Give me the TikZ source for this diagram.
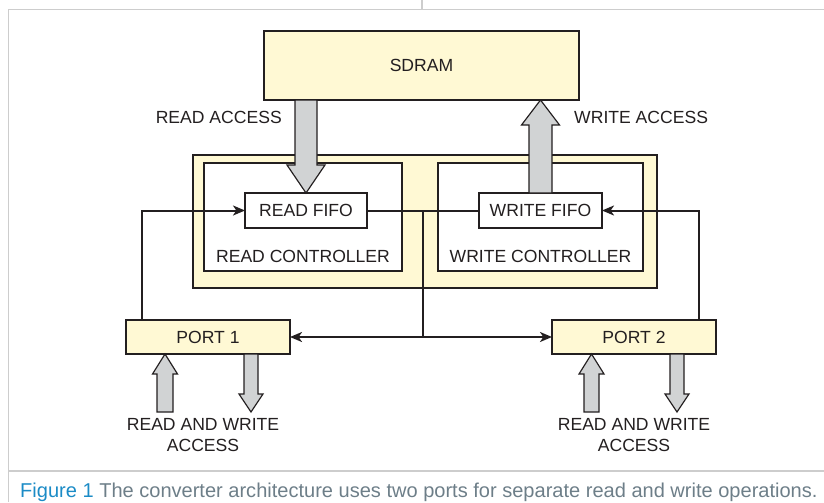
\documentclass[tikz,border=0pt]{standalone}
\usepackage{fontspec}
\setmainfont{Liberation Sans}
\usetikzlibrary{calc,arrows.meta}
\definecolor{boxfill}{HTML}{FFF9D4}
\definecolor{arrfill}{HTML}{D1D3D4}
\definecolor{ink}{HTML}{231F20}
\definecolor{rulegray}{HTML}{CDCDCD}
\definecolor{capblue}{HTML}{1B8BC6}
\definecolor{capgray}{HTML}{6D7E88}
\newcommand{\accessarrow}[5]{%
  \filldraw[fatarrow] ($(#1)+(-#3,0)$) -- ($(#2)+(-#3,#5)$) -- ($(#2)+(-#4,#5)$) -- (#2)
    -- ($(#2)+(#4,#5)$) -- ($(#2)+(#3,#5)$) -- ($(#1)+(#3,0)$) -- cycle;}
\begin{document}
\begin{tikzpicture}[x=0.03cm,y=-0.03cm,
    font=\fontsize{15}{17.5}\selectfont,
    box/.style={draw=ink,line width=1pt,fill=boxfill,inner sep=0pt,outer sep=0pt,text=ink},
    plain/.style={draw=ink,line width=1pt,fill=white,inner sep=0pt,outer sep=0pt,text=ink},
    lbl/.style={inner sep=0pt,text=ink},
    link/.style={draw=ink,line width=1.7pt},
    tip/.style={-{Stealth[length=3.6mm,width=3mm,inset=1mm]}},
    fatarrow/.style={draw=ink,line width=1pt,fill=arrfill,line join=miter}]
    \useasboundingbox (0,0) rectangle (824,502);
    \draw[rulegray,line width=1.2pt] (8.5,502) -- (8.5,9.5) -- (824,9.5);
    \draw[rulegray,line width=1.2pt] (422,0) -- (422,9.5);
    \draw[rulegray,line width=1.2pt] (8.5,471) -- (824,471);
    \node[box,minimum width=9.45cm,minimum height=2.07cm] (sdram) at (421.5,65.5) {SDRAM};
    \node[box,minimum width=13.92cm,minimum height=3.99cm] (ctrl) at (425,221.5) {};
    \node[plain,minimum width=5.94cm,minimum height=3.24cm] (rdctrl) at (303,217) {};
    \node[plain,minimum width=6.15cm,minimum height=3.24cm] (wrctrl) at (540.5,217) {};
    \node[plain,minimum width=3.66cm,minimum height=1.05cm] (rdfifo) at (306,210.5) {READ FIFO};
    \node[plain,minimum width=3.69cm,minimum height=1.05cm] (wrfifo) at (540.5,210.5) {WRITE FIFO};
    \node[lbl] (rdctrltxt) at ($(rdctrl.south)+(0,-15)$) {READ CONTROLLER};
    \node[lbl] (wrctrltxt) at ($(wrctrl.south)+(0,-15)$) {WRITE CONTROLLER};
    \node[box,minimum width=4.92cm,minimum height=1.02cm] (port1) at (208,337) {PORT 1};
    \node[box,minimum width=4.92cm,minimum height=1.02cm] (port2) at (634,337) {PORT 2};
    \node[lbl,anchor=east] (rdacc) at (282,117) {READ ACCESS};
    \node[lbl,anchor=west] (wracc) at (574,117) {WRITE ACCESS};
    \node[lbl,align=center] (p1acc) at (203,435) {READ AND WRITE\\ACCESS};
    \node[lbl,align=center] (p2acc) at (634,435) {READ AND WRITE\\ACCESS};
    \node[anchor=base west,inner sep=0pt,font=\fontsize{17.1}{19}\selectfont] (caption) at (20,497)
        {\textcolor{capblue}{Figure 1} \textcolor{capgray}{The converter architecture uses two ports for separate read and write operations.}};
    \coordinate (rdtop) at (rdfifo.north |- sdram.south);
    \coordinate (wrtop) at (wrfifo.north |- sdram.south);
    \coordinate (p1up) at ($(port1.south)+(-43,0)$);
    \coordinate (p1upt) at ($(port1.south)+(-43,58)$);
    \coordinate (p1dn) at ($(port1.south)+(43,0)$);
    \coordinate (p1dnt) at ($(port1.south)+(43,58)$);
    \coordinate (p2up) at ($(port2.south)+(-42.5,0)$);
    \coordinate (p2upt) at ($(port2.south)+(-42.5,58)$);
    \coordinate (p2dn) at ($(port2.south)+(43,0)$);
    \coordinate (p2dnt) at ($(port2.south)+(43,58)$);
    \accessarrow{rdtop}{rdfifo.north}{11}{19}{-28}
    \accessarrow{wrfifo.north}{wrtop}{11.5}{19}{25}
    \accessarrow{p1upt}{p1up}{8}{12.5}{20}
    \accessarrow{p1dn}{p1dnt}{7}{12}{-18}
    \accessarrow{p2upt}{p2up}{7.5}{12.5}{20}
    \accessarrow{p2dn}{p2dnt}{7}{12}{-18}
    \coordinate (jn) at ($(rdfifo.east)!0.5!(wrfifo.west)$);
    \draw[link] (rdfifo.east) -- (wrfifo.west);
    \draw[link] (jn) -- (jn |- port1.east);
    \draw[link,{Stealth[length=3.6mm,width=3mm,inset=1mm]}-{Stealth[length=3.6mm,width=3mm,inset=1mm]}] (port1.east) -- (port2.west);
    \draw[link,tip] ($(port1.north west)+(16,0)$) |- (rdfifo.west);
    \draw[link,tip] ($(port2.north east)+(-17,0)$) |- (wrfifo.east);
\end{tikzpicture}
\end{document}
